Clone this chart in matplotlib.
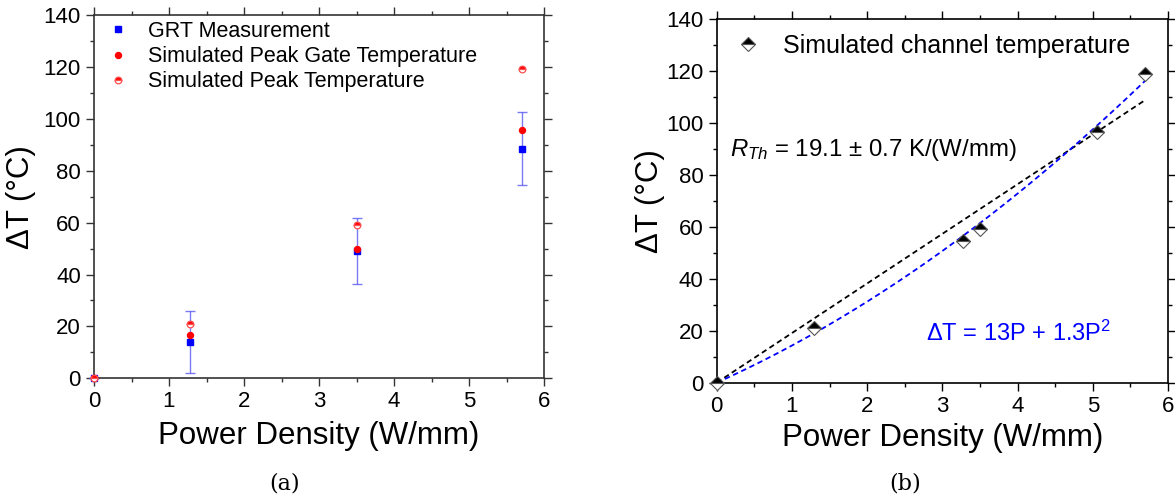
import matplotlib
matplotlib.use("Agg")
import matplotlib.pyplot as plt
import numpy as np
from matplotlib.ticker import MultipleLocator

plt.rcParams['font.family'] = ['Liberation Sans', 'DejaVu Sans']
plt.rcParams['mathtext.fontset'] = 'custom'
plt.rcParams['mathtext.rm'] = 'Liberation Sans'
plt.rcParams['mathtext.it'] = 'Liberation Sans:italic'

# ---- Panel (a): measured vs simulated temperature rise ----
power_a = [0.0, 1.28, 3.5, 5.7]
grt_meas = [0.0, 14.0, 49.0, 88.5]
grt_err = [0.0, 12.0, 12.8, 14.0]
gate_peak = [0.0, 16.5, 50.0, 95.5]
peak_temp = [0.0, 21.0, 59.0, 119.0]

# ---- Panel (b): simulated channel temperature and fits ----
power_b = [0.0, 1.3, 3.28, 3.5, 5.05, 5.7]
channel_temp = [0.0, 21.0, 54.5, 59.0, 96.5, 119.0]
r_th = 19.1          # K/(W/mm), linear fit slope
quad_a, quad_b = 13.0, 1.3   # dT = a*P + b*P^2
fit_pmax = 5.7

x_ticks = [0, 1, 2, 3, 4, 5, 6]
y_ticks = [0, 20, 40, 60, 80, 100, 120, 140]

fig = plt.figure(figsize=(11.75, 4.98), dpi=100)
ax_a = fig.add_axes([94/1175, 1-378.3/498, 450/1175, 363.3/498])
ax_b = fig.add_axes([716.7/1175, 1-382.7/498, 451.3/1175, 363.7/498])


def style_axes(ax, spine_color, spine_lw):
    ax.set_xlim(0, 6)
    ax.set_ylim(0, 140)
    ax.set_xticks(x_ticks)
    ax.set_yticks(y_ticks)
    ax.xaxis.set_minor_locator(MultipleLocator(0.5))
    ax.yaxis.set_minor_locator(MultipleLocator(10))
    ax.tick_params(which='both', direction='out', top=True, right=True,
                   labeltop=False, labelright=False, color=spine_color,
                   width=1.0)
    ax.tick_params(which='major', length=5.5, labelsize=16, pad=4)
    ax.tick_params(which='minor', length=3)
    for s in ax.spines.values():
        s.set_color(spine_color)
        s.set_linewidth(spine_lw)
    ax.set_xlabel('Power Density (W/mm)', fontsize=22.5)
    ax.set_ylabel('ΔT (°C)', fontsize=22.5)


# Panel (a)
style_axes(ax_a, '#333333', 1.2)
ax_a.errorbar(power_a, grt_meas, yerr=grt_err, fmt='none',
              ecolor=(0.3, 0.3, 0.95, 0.75), elinewidth=1.0, capsize=3.5,
              capthick=1.0, zorder=2, clip_on=False)
ax_a.plot(power_a, grt_meas, 's', color='blue', ms=4.2, mec='blue',
          label='GRT Measurement', zorder=3, clip_on=False)
ax_a.plot(power_a, gate_peak, 'o', color='red', ms=4.3, mec='red',
          label='Simulated Peak Gate Temperature', zorder=4, clip_on=False)
ax_a.plot(power_a, peak_temp, 'o', ms=4.8, fillstyle='top', mfc='red',
          mfcalt='white', mec='#ff5050', mew=0.9,
          label='Simulated Peak Temperature', zorder=5, clip_on=False)
ax_a.legend(loc='upper left', bbox_to_anchor=(0.030, 0.984), frameon=False,
            fontsize=15.5, handlelength=1.0, handletextpad=0.9,
            labelspacing=0.2, borderpad=0, borderaxespad=0)
ax_a.xaxis.set_label_coords(0.5, -0.118)
ax_a.yaxis.set_label_coords(-0.129, 0.5)

# Panel (b)
style_axes(ax_b, 'black', 1.2)
p_fit = np.linspace(0, fit_pmax, 200)
ax_b.plot(p_fit, r_th * p_fit, color='black', lw=1.3,
          linestyle=(0, (3, 2)), zorder=2)
ax_b.plot(p_fit, quad_a * p_fit + quad_b * p_fit**2, color='blue', lw=1.3,
          linestyle=(0, (3, 2)), zorder=2)
ax_b.plot(power_b, channel_temp, 'D', ms=7, fillstyle='top', mfc='black',
          mfcalt='white', mec='#555555', mew=0.8,
          label='Simulated channel temperature', zorder=3, clip_on=False)
ax_b.legend(loc='upper left', bbox_to_anchor=(0.042, 0.960), frameon=False,
            fontsize=18, handlelength=1.0, handletextpad=0.9,
            borderpad=0, borderaxespad=0)
ax_b.text(0.18, 87.4, r'$R_{Th}$ = 19.1 ± 0.7 K/(W/mm)', fontsize=17.3,
          ha='left', va='baseline')
ax_b.text(2.78, 16.2, r'ΔT = 13P + 1.3P$^{2}$', fontsize=17, color='blue',
          ha='left', va='baseline')
ax_b.xaxis.set_label_coords(0.5, -0.112)
ax_b.yaxis.set_label_coords(-0.115, 0.5)

fig.text(285/1175, 1-483/498, '(a)', family='DejaVu Serif', fontsize=16,
         ha='center', va='center')
fig.text(905/1175, 1-483/498, '(b)', family='DejaVu Serif', fontsize=16,
         ha='center', va='center')

fig.savefig('out.png', dpi=100)
